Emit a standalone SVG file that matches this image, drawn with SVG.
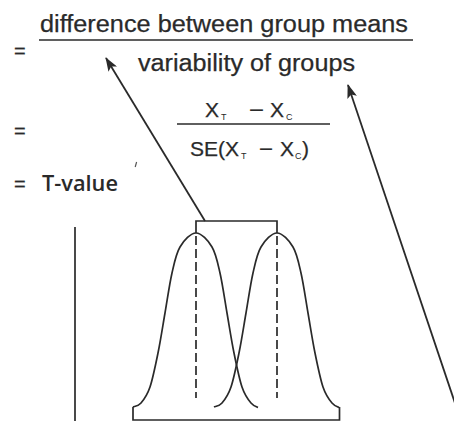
<svg xmlns="http://www.w3.org/2000/svg" width="454" height="421" viewBox="0 0 454 421">
<style>
.t{font-family:"Liberation Sans",Arial,sans-serif;fill:#2a2a2a;stroke:#2a2a2a;stroke-width:0.25;}
.s{font-family:"Liberation Sans",Arial,sans-serif;fill:#2a2a2a;font-size:9px;}
.ln{stroke:#2a2a2a;fill:none;stroke-width:1.7;}
.arr{stroke:#2a2a2a;fill:none;stroke-width:1.8;marker-end:url(#ah);}
</style>
<defs>
<marker id="ah" markerUnits="userSpaceOnUse" viewBox="0 0 14 10" refX="13" refY="5" markerWidth="14" markerHeight="10" orient="auto">
<path d="M0,0 L14,5 L0,10 L3,5 z" fill="#2a2a2a"/>
</marker>
<path id="bell" d="M133,407 C134.3,406.3 138.2,406.3 141,403 C143.8,399.7 147.2,395.3 150,387 C152.8,378.7 155.5,365.3 158,353 C160.5,340.7 162.7,326.3 165,313 C167.3,299.7 169.5,284 172,273 C174.5,262 176,253.7 180,247 C184,240.3 190.7,233 196,233 C201.3,233 208,240.3 212,247 C216,253.7 217.5,262 220,273 C222.5,284 224.7,299.7 227,313 C229.3,326.3 231.5,340.7 234,353 C236.5,365.3 239.2,378.7 242,387 C244.8,395.3 248.2,399.7 251,403 C253.8,406.3 255.7,406.8 258,407.5"/>
</defs>

<g id="formula1">
<text class="t" x="14" y="58" font-size="20">=</text>
<text class="t" x="40" y="32" font-size="23.5" textLength="368" lengthAdjust="spacingAndGlyphs">difference between group means</text>
<line class="ln" x1="39" y1="40" x2="413" y2="40"/>
<text class="t" x="138" y="71" font-size="23.5" textLength="217" lengthAdjust="spacingAndGlyphs">variability of groups</text>
</g>

<g id="formula2">
<text class="t" x="14" y="138" font-size="20">=</text>
<text class="t" x="205" y="117" font-size="21">X</text>
<text class="s" x="221" y="120">T</text>
<text class="t" x="249" y="117" font-size="21" textLength="15" lengthAdjust="spacingAndGlyphs">−</text>
<text class="t" x="270" y="117" font-size="21">X</text>
<text class="s" x="286" y="120">C</text>
<line class="ln" x1="177" y1="124" x2="330" y2="124"/>
<text class="t" x="190" y="156" font-size="21">SE(X</text>
<text class="s" x="241" y="159">T</text>
<text class="t" x="259" y="156" font-size="21" textLength="14" lengthAdjust="spacingAndGlyphs">−</text>
<text class="t" x="280" y="156" font-size="21">X</text>
<text class="s" x="295" y="159">C</text>
<text class="t" x="302" y="156" font-size="21">)</text>
</g>

<g id="formula3">
<text class="t" x="14" y="191" font-size="20">=</text>
<text x="42" y="191" font-size="22" textLength="76" lengthAdjust="spacingAndGlyphs" style="font-family:'Open Sans','DejaVu Sans',sans-serif;font-weight:600;fill:#2a2a2a">T-value</text>
<path d="M136.6,162 L135.2,167" stroke="#555" stroke-width="1.2" fill="none"/>
</g>

<g id="axis">
<line class="ln" x1="75" y1="227" x2="75" y2="421" stroke-width="2"/>
</g>

<g id="distributions">
<use href="#bell" class="ln"/>
<use href="#bell" class="ln" transform="translate(81,0)"/>
<path class="ln" d="M133,407 V420 H339.5 V407"/>
<line class="ln" x1="196" y1="236" x2="196" y2="398" stroke-dasharray="9 4"/>
<line class="ln" x1="277" y1="236" x2="277" y2="398" stroke-dasharray="9 4"/>
<path class="ln" d="M196,233 V221 H277 V233"/>
</g>

<g id="connectors">
<line class="arr" x1="205" y1="221" x2="106" y2="58"/>
<line class="arr" x1="461" y1="421" x2="348" y2="85"/>
</g>
</svg>
